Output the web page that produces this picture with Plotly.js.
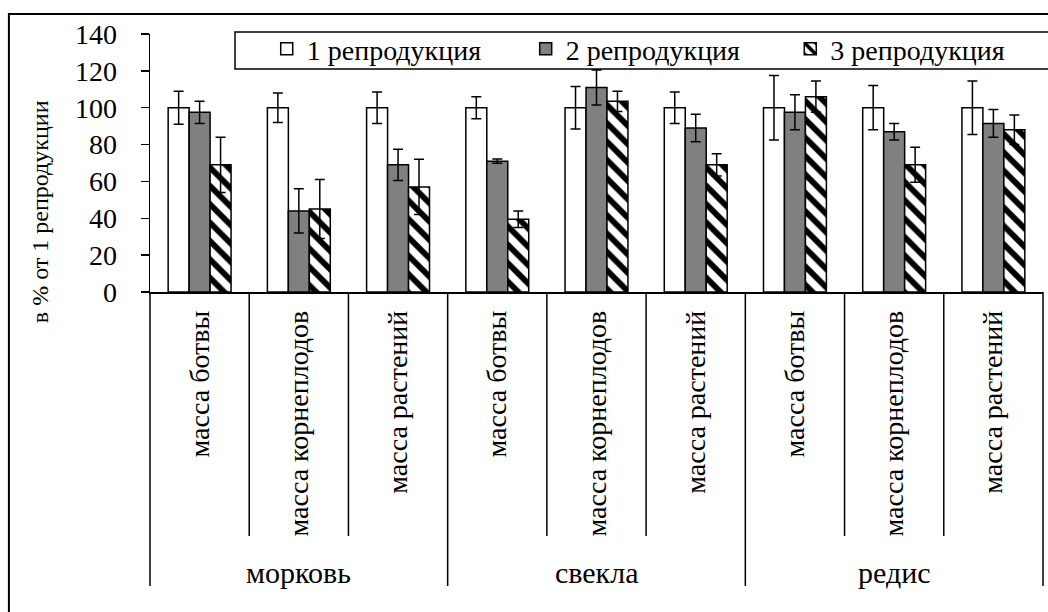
<!DOCTYPE html>
<html>
<head>
<meta charset="utf-8">
<script src="https://cdn.plot.ly/plotly-3.0.1.min.js"></script>
<style>
  html, body { margin: 0; padding: 0; background: #fff; }
  #chart { width: 1048px; height: 612px; }
</style>
</head>
<body>
<div id="chart"></div>
<script>
// ---- data ----
const groups = ['морковь', 'свекла', 'редис'];
const subLabels = ['масса ботвы', 'масса корнеплодов', 'масса растений'];
const seriesNames = ['1 репродукция', '2 репродукция', '3 репродукция'];
const yTitle = 'в % от 1 репродукции';

const rep1 = [100, 100, 100, 100, 100, 100, 100, 100, 100];
const rep1Err = [9, 8, 8.5, 6, 11.5, 8.5, 17.5, 12, 14.5];
const rep2 = [97.5, 44, 69, 71, 111, 89, 97.5, 87, 91.5];
const rep2Err = [6, 12, 8.5, 1.2, 9.5, 7.5, 9.5, 4.5, 7.5];
const rep3 = [69, 45, 57, 39.5, 103.5, 69, 106, 69, 88];
const rep3Err = [15, 16, 15, 4.5, 5.5, 6, 8.5, 9.5, 8];

const yTicks = [0, 20, 40, 60, 80, 100, 120, 140];

// ---- build ----
const FONT = '"Liberation Serif", "DejaVu Serif", "Times New Roman", Times, serif';
const nCats = groups.length * subLabels.length;
const xIdx = [];
const xText = [];
groups.forEach((g, gi) => subLabels.forEach((s, si) => {
  xIdx.push(gi * subLabels.length + si);
  xText.push(s);
}));

const errStyle = (arr) => ({type: 'data', array: arr, visible: true, color: '#000', thickness: 1.5, width: 5});

const traces = [
  {
    type: 'bar', name: seriesNames[0], x: xIdx, y: rep1, legend: 'legend',
    marker: {color: '#ffffff', line: {color: '#000', width: 1.5}},
    error_y: errStyle(rep1Err)
  },
  {
    type: 'bar', name: seriesNames[1], x: xIdx, y: rep2, legend: 'legend2',
    marker: {color: '#808080', line: {color: '#000', width: 1.5}},
    error_y: errStyle(rep2Err)
  },
  {
    type: 'bar', name: seriesNames[2], x: xIdx, y: rep3, legend: 'legend3',
    marker: {color: '#ffffff', line: {color: '#000', width: 1.5},
      pattern: {shape: '\\', fgcolor: '#000', bgcolor: '#fff', size: 13, solidity: 0.45}},
    error_y: errStyle(rep3Err)
  }
];

// separators under the axis (category boundaries), legend box and frame
const shapes = [];
for (let b = 0; b <= nCats; b++) {
  const long = (b % subLabels.length === 0);
  shapes.push({
    type: 'line', xref: 'paper', yref: 'paper',
    x0: b / nCats, x1: b / nCats, y0: 0, y1: long ? -1.14 : -0.946,
    line: {color: '#000', width: 1.5}
  });
}
shapes.push({
  type: 'rect', xref: 'paper', yref: 'paper', layer: 'above',
  x0: 0.0952, x1: 1.2, y0: 0.864, y1: 1.0078,
  line: {color: '#000', width: 1.5}, fillcolor: '#ffffff'
});
shapes.push({
  type: 'rect', xref: 'paper', yref: 'paper',
  x0: -0.158, x1: 1.3, y0: -1.6, y1: 1.0775,
  line: {color: '#000', width: 2}, fillcolor: 'rgba(0,0,0,0)'
});

const annotations = groups.map((g, gi) => ({
  text: g, xref: 'x', yref: 'paper',
  x: gi * subLabels.length + (subLabels.length - 1) / 2, y: -1.089,
  xanchor: 'center', yanchor: 'middle', showarrow: false,
  font: {family: FONT, size: 30, color: '#000'}
}));
annotations.push({
  text: yTitle, xref: 'paper', yref: 'paper', x: -0.123, y: 0.31,
  xanchor: 'center', yanchor: 'middle', textangle: -90, showarrow: false,
  font: {family: FONT, size: 24, color: '#000'}
});

const legendBase = (x) => ({
  orientation: 'h', x: x, xanchor: 'left', y: 0.942, yanchor: 'middle',
  bgcolor: 'rgba(0,0,0,0)', borderwidth: 0,
  font: {family: FONT, size: 28, color: '#000'}
});

const layout = {
  width: 1048, height: 612,
  margin: {l: 150, r: 5, t: 34, b: 320},
  paper_bgcolor: '#fff', plot_bgcolor: '#fff',
  font: {family: FONT, color: '#000'},
  barmode: 'group', bargap: 0.366, bargroupgap: 0,
  showlegend: true,
  legend: legendBase(0.1307),
  legend2: legendBase(0.4207),
  legend3: legendBase(0.7170),
  xaxis: {
    range: [-0.5, nCats - 0.5], tickmode: 'array', tickvals: xIdx, ticktext: xText,
    tickangle: -90, ticks: '', showline: true, linecolor: '#000', linewidth: 1.5,
    showgrid: false, zeroline: false, ticklabelstandoff: 6,
    tickfont: {family: FONT, size: 28, color: '#000'}, automargin: false
  },
  yaxis: {
    range: [0, 140], tickmode: 'array', tickvals: yTicks,
    ticks: 'outside', ticklen: 8, tickwidth: 1.5, tickcolor: '#000',
    showline: true, linecolor: '#000', linewidth: 1.5,
    showgrid: false, zeroline: false, ticklabelstandoff: 18,
    tickfont: {family: FONT, size: 28, color: '#000'}, automargin: false
  },
  shapes: shapes,
  annotations: annotations
};

Plotly.newPlot('chart', traces, layout, {displayModeBar: false, staticPlot: true});
</script>
</body>
</html>
